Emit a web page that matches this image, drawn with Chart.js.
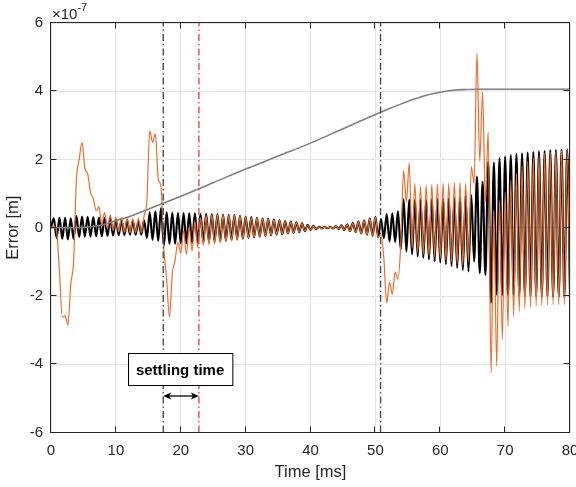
<!DOCTYPE html>
<html lang="en">
<head>
  <meta charset="UTF-8">
  <title>Error vs Time</title>
  <script src="https://cdn.jsdelivr.net/npm/chart.js"></script>
  <style>
    body { margin: 0; background: #fff; }
    canvas { display: block; }
  </style>
</head>
<body>
  <canvas id="chart" width="576" height="487"></canvas>

  <script>
    // samples are half an oscillation period apart (ms)
    const sampleStep = 0.4348;

    // black trace, x 1e-7 m
    const blackError = [
      0, 0.28, -0.30, 0.30, -0.33, 0.29, -0.34, 0.28, -0.33, 0.34,
      -0.27, 0.33, -0.26, 0.32, -0.26, 0.31, -0.25, 0.30, -0.25, 0.29,
      -0.24, 0.28, -0.23, 0.25, -0.22, 0.23, -0.21, 0.22, -0.20, 0.21,
      -0.20, 0.20, -0.20, 0.22, -0.30, 0.45, -0.36, 0.48, -0.38, 0.58,
      -0.53, 0.45, -0.47, 0.44, -0.47, 0.43, -0.46, 0.43, -0.45, 0.42,
      -0.45, 0.42, -0.44, 0.41, -0.43, 0.41, -0.42, 0.40, -0.41, 0.40,
      -0.40, 0.39, -0.38, 0.38, -0.36, 0.37, -0.34, 0.35, -0.32, 0.33,
      -0.30, 0.31, -0.28, 0.29, -0.26, 0.27, -0.24, 0.26, -0.22, 0.24,
      -0.20, 0.22, -0.19, 0.20, -0.17, 0.18, -0.15, 0.16, -0.13, 0.13,
      -0.10, 0.09, -0.07, 0.06, -0.04, 0.03, -0.02, 0.02, -0.01, 0.02,
      -0.02, 0.04, -0.04, 0.07, -0.07, 0.10, -0.10, 0.14, -0.13, 0.18,
      -0.17, 0.22, -0.20, 0.27, -0.24, 0.32, -0.28, 0.25, -0.30, 0.40,
      -0.40, 0.42, -0.42, 0.48, -0.64, 0.84, -0.70, 0.83, -0.78, 0.82,
      -0.84, 0.83, -0.88, 0.83, -0.93, 0.84, -0.98, 0.84, -1.02, 0.85,
      -1.07, 0.86, -1.12, 0.87, -1.18, 0.88, -1.24, 0.95, -1.28, 0.96,
      -0.99, 1.50, -1.33, 1.35, -1.38, 1.94, -2.20, 1.91, -1.96, 2.04,
      -1.97, 2.09, -1.98, 2.13, -1.99, 2.16, -2.00, 2.18, -2.00, 2.20,
      -2.01, 2.22, -2.01, 2.24, -2.02, 2.25, -2.02, 2.27, -2.03, 2.28,
      -2.03, 2.29, -2.03, 2.30, -2.03
    ];

    // orange trace, same sampling
    const orangeError = [
      0, 0.05, -0.10, -1.30, -2.62, -2.58, -2.85, -1.65, -1.00, 1.40,
      2.00, 2.50, 1.75, 1.58, 1.05, 0.85, 0.50, 0.62, 0.10, 0.45,
      -0.02, 0.38, -0.08, 0.32, -0.12, 0.30, -0.14, 0.28, -0.15, 0.27,
      -0.15, 0.28, -0.14, 0.35, 0.80, 2.85, 2.50, 2.75, 1.45, 1.20,
      -0.60, -1.50, -2.62, -1.35, -0.95, -0.42, -0.75, -0.08, -0.78, 0.02,
      -0.68, 0.20, -0.58, 0.30, -0.52, 0.36, -0.50, 0.38, -0.48, 0.39,
      -0.45, 0.38, -0.41, 0.37, -0.38, 0.36, -0.36, 0.34, -0.33, 0.32,
      -0.31, 0.30, -0.28, 0.28, -0.26, 0.26, -0.24, 0.25, -0.22, 0.23,
      -0.20, 0.21, -0.19, 0.19, -0.17, 0.17, -0.15, 0.15, -0.13, 0.12,
      -0.10, 0.08, -0.07, 0.05, -0.04, 0.03, -0.02, 0.02, -0.01, 0.02,
      -0.02, 0.04, -0.04, 0.07, -0.07, 0.10, -0.10, 0.13, -0.13, 0.17,
      -0.17, 0.21, -0.20, 0.26, -0.24, 0.31, -0.28, -0.20, -0.90, -2.20,
      -1.60, -1.95, -1.30, -1.50, -0.50, 1.68, 0.75, 1.90, -0.60, 1.30,
      -0.72, 1.22, -0.78, 1.25, -0.82, 1.27, -0.86, 1.28, -0.90, 1.30,
      -0.95, 1.30, -1.00, 1.32, -1.05, 1.33, -1.10, 1.30, -1.00, 1.79,
      1.30, 5.12, 1.95, 3.98, 0.77, 2.82, -4.25, 0.50, -4.05, 0.80,
      -3.27, 1.05, -2.89, 1.40, -2.60, 1.60, -2.45, 1.80, -2.38, 1.95,
      -2.33, 2.05, -2.30, 2.12, -2.28, 2.18, -2.26, 2.22, -2.25, 2.25,
      -2.25, 2.27, -2.25, 2.29, -2.25
    ];

    // smooth reference (gray)
    const grayTime  = [0, 4, 6, 8, 10, 12, 14, 16, 18, 20, 25, 30, 35, 40, 45, 50, 52, 54, 56, 58, 60, 62, 64, 66, 70, 80];
    const grayError = [0, 0, 0.03, 0.09, 0.21, 0.32, 0.47, 0.62, 0.77, 0.92, 1.32, 1.72, 2.10, 2.48, 2.90, 3.32, 3.48, 3.63, 3.77, 3.89, 3.97, 4.03, 4.05, 4.06, 4.06, 4.06];

    // vertical dash-dot markers (ms)
    const markerTimes  = [17.3, 22.8, 50.8];
    const markerColors = ['#4d4d4d', '#f4473b', '#4d4d4d'];

    const xTicks = [0, 10, 20, 30, 40, 50, 60, 70, 80];
    const yTicks = [-6, -4, -2, 0, 2, 4, 6];

    const annotationText = 'settling time';
    const annotationAt = { t: 19.9, v: -4.15 };
    const arrowLevel = -4.93;

    const FONT = "'Liberation Sans', Arial, Helvetica, sans-serif";
    const INK = '#262626';
    Chart.defaults.font.family = FONT;

    const toPoints = (vals, step) => vals.map((v, i) => ({ x: i * step, y: v }));

    const datasets = [];
    markerTimes.forEach((t, k) => {
      datasets.push({
        data: [{ x: t, y: yTicks[0] }, { x: t, y: yTicks[yTicks.length - 1] }],
        borderColor: markerColors[k],
        borderWidth: 1.4,
        borderDash: [7, 3, 1.5, 3],
        order: 0
      });
    });
    datasets.push({
      data: grayTime.map((t, i) => ({ x: t, y: grayError[i] })),
      borderColor: '#7f7f7f', borderWidth: 1.6,
      cubicInterpolationMode: 'monotone', order: 1
    });
    datasets.push({
      data: toPoints(orangeError, sampleStep),
      borderColor: '#ef6c2c', borderWidth: 1.2,
      cubicInterpolationMode: 'monotone', order: 2
    });
    datasets.push({
      data: toPoints(blackError, sampleStep),
      borderColor: '#000000', borderWidth: 2.1,
      cubicInterpolationMode: 'monotone', order: 3
    });

    // box, inward ticks, exponent and the annotation
    const frame = {
      id: 'frame',
      afterDatasetsDraw(chart) {
        const { ctx, chartArea: a, scales: { x, y } } = chart;
        const L = Math.round(a.left) - 0.5, R = Math.round(a.right) - 0.5;
        const T = Math.round(a.top) - 0.5, B = Math.round(a.bottom) - 0.5;
        ctx.save();
        ctx.strokeStyle = INK;
        ctx.lineWidth = 1;
        ctx.beginPath();
        xTicks.forEach(v => {
          const px = Math.round(x.getPixelForValue(v)) - 0.5;
          ctx.moveTo(px, B); ctx.lineTo(px, B - 6);
          ctx.moveTo(px, T); ctx.lineTo(px, T + 6);
        });
        yTicks.forEach(v => {
          const py = Math.round(y.getPixelForValue(v)) - 0.5;
          ctx.moveTo(L, py); ctx.lineTo(L + 6, py);
          ctx.moveTo(R, py); ctx.lineTo(R - 6, py);
        });
        ctx.stroke();
        ctx.strokeRect(L, T, R - L, B - T);
        ctx.restore();
      },
      afterDraw(chart) {
        const { ctx, chartArea: a, scales: { x, y } } = chart;
        ctx.save();
        // x10^-7
        ctx.fillStyle = INK;
        ctx.textBaseline = 'alphabetic';
        ctx.font = '15px ' + FONT;
        ctx.fillText('\u00d710', a.left + 1, a.top - 4);
        const w = ctx.measureText('\u00d710').width;
        ctx.font = '11px ' + FONT;
        ctx.fillText('-7', a.left + 1 + w, a.top - 12);

        // settling time box
        const cx = x.getPixelForValue(annotationAt.t);
        const cy = y.getPixelForValue(annotationAt.v);
        ctx.font = 'bold 15px ' + FONT;
        const bw = ctx.measureText(annotationText).width + 16;
        const bh = 32;
        const bx = Math.round(cx - bw / 2) + 0.5, by = Math.round(cy - bh / 2) + 0.5;
        ctx.fillStyle = '#fff';
        ctx.fillRect(bx, by, bw, bh);
        ctx.strokeStyle = '#000';
        ctx.lineWidth = 1;
        ctx.strokeRect(bx, by, bw, bh);
        ctx.fillStyle = '#000';
        ctx.textAlign = 'center';
        ctx.textBaseline = 'middle';
        ctx.fillText(annotationText, cx, cy + 1);

        // double arrow between the first two markers
        const x1 = x.getPixelForValue(markerTimes[0]);
        const x2 = x.getPixelForValue(markerTimes[1]);
        const ay = y.getPixelForValue(arrowLevel);
        ctx.lineWidth = 1.3;
        ctx.beginPath();
        ctx.moveTo(x1 + 3, ay); ctx.lineTo(x2 - 3, ay);
        ctx.stroke();
        ctx.beginPath();
        ctx.moveTo(x1, ay); ctx.lineTo(x1 + 8, ay - 3.5); ctx.lineTo(x1 + 6, ay); ctx.lineTo(x1 + 8, ay + 3.5); ctx.closePath();
        ctx.moveTo(x2, ay); ctx.lineTo(x2 - 8, ay - 3.5); ctx.lineTo(x2 - 6, ay); ctx.lineTo(x2 - 8, ay + 3.5); ctx.closePath();
        ctx.fill();
        ctx.restore();
      }
    };

    new Chart(document.getElementById('chart'), {
      type: 'line',
      data: { datasets },
      options: {
        responsive: false,
        animation: false,
        devicePixelRatio: 1,
        layout: { padding: { top: 23, right: 6, left: 0, bottom: 0 } },
        elements: { point: { radius: 0 }, line: { tension: 0 } },
        plugins: { legend: { display: false }, tooltip: { enabled: false } },
        scales: {
          x: {
            type: 'linear',
            min: xTicks[0], max: xTicks[xTicks.length - 1],
            afterBuildTicks: s => { s.ticks = xTicks.map(v => ({ value: v })); },
            afterFit: s => { s.height = 54.5; s.paddingLeft = 0; s.paddingRight = 0; },
            grid: { color: '#e3e3e3', drawTicks: false },
            border: { display: false },
            ticks: { color: INK, font: { size: 15 }, padding: 9, maxRotation: 0, autoSkip: false },
            title: { display: true, text: 'Time [ms]', color: INK, font: { size: 16.5 }, padding: { top: 0, bottom: 5 } }
          },
          y: {
            type: 'linear',
            min: yTicks[0], max: yTicks[yTicks.length - 1],
            afterBuildTicks: s => { s.ticks = yTicks.map(v => ({ value: v })); },
            afterFit: s => { s.width = 51; s.paddingTop = 0; s.paddingBottom = 0; },
            grid: { color: '#e3e3e3', drawTicks: false },
            border: { display: false },
            ticks: { color: INK, font: { size: 15 }, padding: 8 },
            title: { display: true, text: 'Error [m]', color: INK, font: { size: 16.5 }, padding: { top: 4, bottom: 0 } }
          }
        }
      },
      plugins: [frame]
    });
  </script>
</body>
</html>
